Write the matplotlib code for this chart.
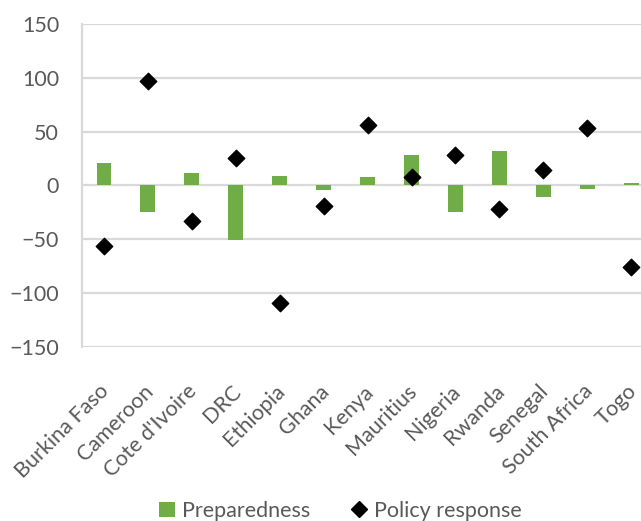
import numpy as np
import matplotlib.pyplot as plt
import matplotlib.transforms as mtransforms
from matplotlib.lines import Line2D
from matplotlib.patches import Patch

plt.rcParams['font.family'] = ['Lato', 'DejaVu Sans']

countries = ["Burkina Faso", "Cameroon", "Cote d'Ivoire", "DRC", "Ethiopia", "Ghana",
             "Kenya", "Mauritius", "Nigeria", "Rwanda", "Senegal", "South Africa", "Togo"]
preparedness = [21, -25, 12, -51, 9, -4, 8, 28, -25, 32, -10.5, -3, 2]
policy_response = [-56, 97, -33.5, 25.5, -109, -19.5, 56, 8, 28.5, -21.5, 14, 53.5, -75.5]

green = '#70ad47'
grid_col = '#d9d9d9'
text_col = '#595959'
fsize = 15.5

fig = plt.figure(figsize=(6.41, 5.21), dpi=100)
ax = fig.add_axes([0.128, 0.3346, 0.891, 0.6188])

x = np.arange(len(countries))
ax.bar(x, preparedness, width=0.34, color=green, zorder=2)
ax.scatter(x, policy_response, marker='D', s=70, color='black', zorder=3)

ax.set_xlim(-0.5, len(countries) - 0.5)
ax.set_ylim(-150, 150)
ax.set_yticks(range(-150, 151, 50))
ax.yaxis.grid(True, color=grid_col, linewidth=1.6, zorder=0)
ax.set_axisbelow(True)
for side in ['top', 'right', 'bottom']:
    ax.spines[side].set_visible(False)
ax.spines['left'].set_color(grid_col)
ax.spines['left'].set_linewidth(1.6)

ax.tick_params(axis='y', length=0, pad=16.5, labelsize=fsize, labelcolor=text_col)
ax.tick_params(axis='x', length=0, pad=30, labelsize=fsize, labelcolor=text_col)
ax.set_xticks(x)
ax.set_xticklabels(countries, rotation=45, ha='right', va='center', rotation_mode='anchor')
shift = mtransforms.ScaledTranslation(2 / 100, 0, fig.dpi_scale_trans)
for lbl in ax.get_xticklabels():
    lbl.set_transform(lbl.get_transform() + shift)

handles = [Patch(facecolor=green, edgecolor='none'),
           Line2D([], [], marker='D', color='black', linestyle='none', markersize=8)]
fig.legend(handles, ['Preparedness', 'Policy response'], loc='center',
           bbox_to_anchor=(0.531, 0.02), ncol=2, frameon=False, fontsize=fsize,
           labelcolor=text_col, handlelength=0.75, handleheight=0.7,
           handletextpad=0.3, columnspacing=1.9)

fig.savefig('out.png', dpi=100)
